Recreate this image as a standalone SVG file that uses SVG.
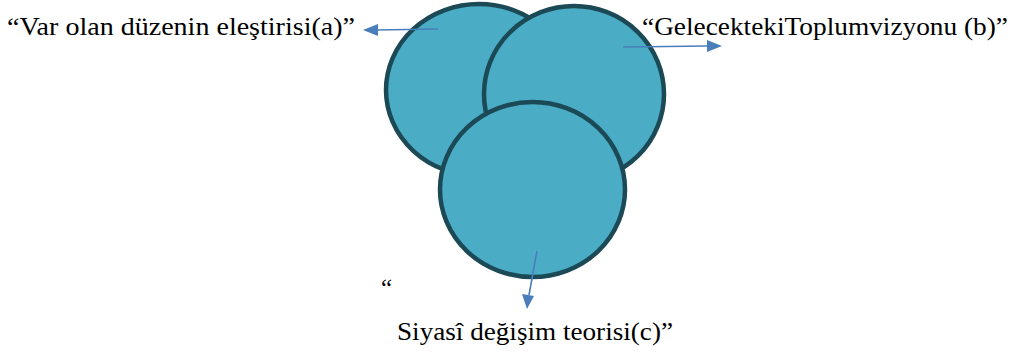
<svg xmlns="http://www.w3.org/2000/svg" width="1013" height="354" viewBox="0 0 1013 354">
<defs>
<style>
.c{fill:#4bacc6;stroke:#1b4a56;stroke-width:4.5}
.t{font-family:"Liberation Serif","DejaVu Serif",serif;font-size:25px;fill:#000}
.a{stroke:#4a7ebb;stroke-width:1.6;fill:none}
.h{fill:#4a7ebb}
</style>
</defs>
<rect width="1013" height="354" fill="#fff"/>
<g id="node-a"><ellipse class="c" cx="479" cy="90" rx="93" ry="86"/></g>
<g id="node-b"><ellipse class="c" cx="574" cy="94" rx="90" ry="88"/></g>
<g id="node-c"><ellipse class="c" cx="532.5" cy="189.5" rx="92.5" ry="87.5"/></g>
<g id="connectors">
<line class="a" x1="438" y1="29" x2="376" y2="30"/>
<path class="h" d="M378,24 L363,30 L378,36 Z"/>
<line class="a" x1="623" y1="47" x2="708" y2="46"/>
<path class="h" d="M707,40 L722,46 L707,52 Z"/>
<line class="a" x1="537" y1="251" x2="529" y2="295"/>
<path class="h" d="M522,294 L527,309 L534,296 Z"/>
</g>
<g id="labels">
<text class="t" x="7" y="35" textLength="348" lengthAdjust="spacingAndGlyphs">“Var olan düzenin eleştirisi(a)”</text>
<text class="t" x="642" y="35" textLength="366" lengthAdjust="spacingAndGlyphs">“GelecektekiToplumvizyonu (b)”</text>
<text class="t" x="381" y="296">“</text>
<text class="t" x="397" y="340" textLength="276" lengthAdjust="spacingAndGlyphs">Siyasî değişim teorisi(c)”</text>
</g>
</svg>
